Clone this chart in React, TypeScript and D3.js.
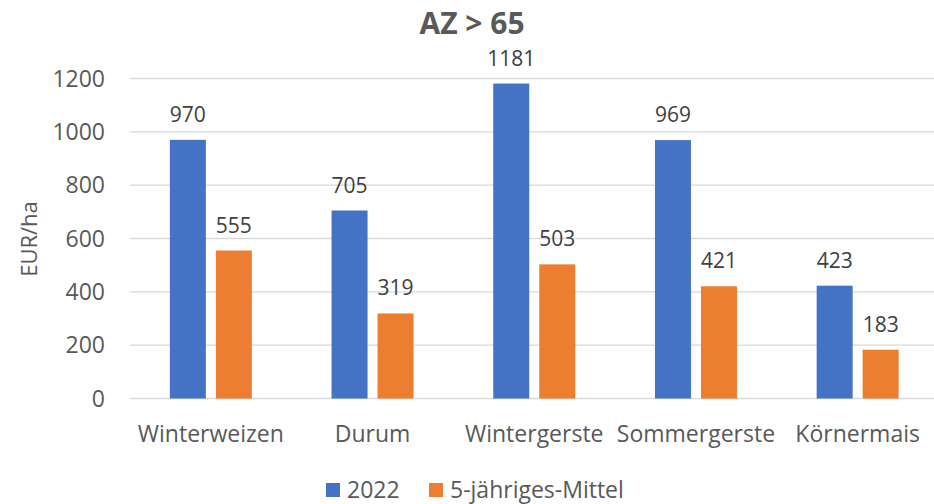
import React, { useEffect, useRef } from "react";
import * as d3 from "d3";

const categories = ["Winterweizen", "Durum", "Wintergerste", "Sommergerste", "Körnermais"];
const seriesNames = ["2022", "5-jähriges-Mittel"];
const values2022 = [970, 705, 1181, 969, 423];
const valuesMittel = [555, 319, 503, 421, 183];
const yTicks = [0, 200, 400, 600, 800, 1000, 1200];
const colors = ["#4472C4", "#ED7D31"];

const FONT = "'Open Sans', sans-serif";

export default function App() {
  const ref = useRef<HTMLDivElement>(null);

  useEffect(() => {
    const container = d3.select(ref.current);
    container.selectAll("*").remove();

    const width = 934;
    const height = 504;
    const svg = container.append("svg").attr("width", width).attr("height", height)
      .style("display", "block").style("font-family", FONT);

    svg.append("rect").attr("width", width).attr("height", height).attr("fill", "#fff");

    const left = 130, right = 938.5, top = 78.5, bottom = 398.5;

    const x0 = d3.scaleBand().domain(categories).range([left, right]).padding(0);
    const groupW = 82;
    const x1 = d3.scaleBand().domain(seriesNames)
      .range([(x0.bandwidth() - groupW) / 2, (x0.bandwidth() + groupW) / 2])
      .paddingInner(10 / 46);
    const y = d3.scaleLinear().domain([0, 1200]).range([bottom, top]);

    // gridlines
    svg.append("g").selectAll("line").data(yTicks).join("line")
      .attr("x1", left).attr("x2", right)
      .attr("y1", (d) => y(d)).attr("y2", (d) => y(d))
      .attr("stroke", "#d9d9d9").attr("stroke-width", 1.3);

    // y tick labels
    svg.append("g").selectAll("text").data(yTicks).join("text")
      .attr("x", 105).attr("y", (d) => y(d)).attr("dy", "0.35em")
      .attr("text-anchor", "end").attr("font-size", 23).attr("fill", "#595959")
      .text((d) => d);

    // y axis title
    svg.append("text")
      .attr("transform", `translate(37,239) rotate(-90)`)
      .attr("text-anchor", "middle").attr("font-size", 22).attr("fill", "#595959")
      .text("EUR/ha");

    // title
    svg.append("text").attr("x", 472).attr("y", 34).attr("text-anchor", "middle")
      .attr("font-size", 30).attr("font-weight", "bold").attr("fill", "#595959")
      .text("AZ > 65");

    const rows = categories.map((c, i) => ({ cat: c, vals: [values2022[i], valuesMittel[i]] }));

    const groups = svg.append("g").selectAll("g").data(rows).join("g")
      .attr("transform", (d) => `translate(${x0(d.cat)},0)`);

    groups.selectAll("rect").data((d) => d.vals.map((v, j) => ({ v, s: seriesNames[j], j })))
      .join("rect")
      .attr("x", (d) => x1(d.s)!).attr("width", x1.bandwidth())
      .attr("y", (d) => y(d.v)).attr("height", (d) => bottom - y(d.v))
      .attr("fill", (d) => colors[d.j]);

    groups.selectAll("text").data((d) => d.vals.map((v, j) => ({ v, s: seriesNames[j] })))
      .join("text")
      .attr("x", (d) => x1(d.s)! + x1.bandwidth() / 2)
      .attr("y", (d) => y(d.v) - 18)
      .attr("text-anchor", "middle").attr("font-size", 21).attr("fill", "#404040")
      .text((d) => d.v);

    // x labels
    svg.append("g").selectAll("text").data(categories).join("text")
      .attr("x", (d) => x0(d)! + x0.bandwidth() / 2).attr("y", 442)
      .attr("text-anchor", "middle").attr("font-size", 23).attr("fill", "#595959")
      .text((d) => d);

    // legend
    const legendX = [326, 429];
    const leg = svg.append("g").selectAll("g").data(seriesNames).join("g")
      .attr("transform", (d, i) => `translate(${legendX[i]},483)`);
    leg.append("rect").attr("width", 14).attr("height", 14).attr("fill", (d, i) => colors[i]);
    leg.append("text").attr("x", 21).attr("y", 15).attr("font-size", 23).attr("fill", "#595959")
      .text((d) => d);
  }, []);

  return <div ref={ref} style={{ position: "absolute", left: 0, top: 0 }}></div>;
}
